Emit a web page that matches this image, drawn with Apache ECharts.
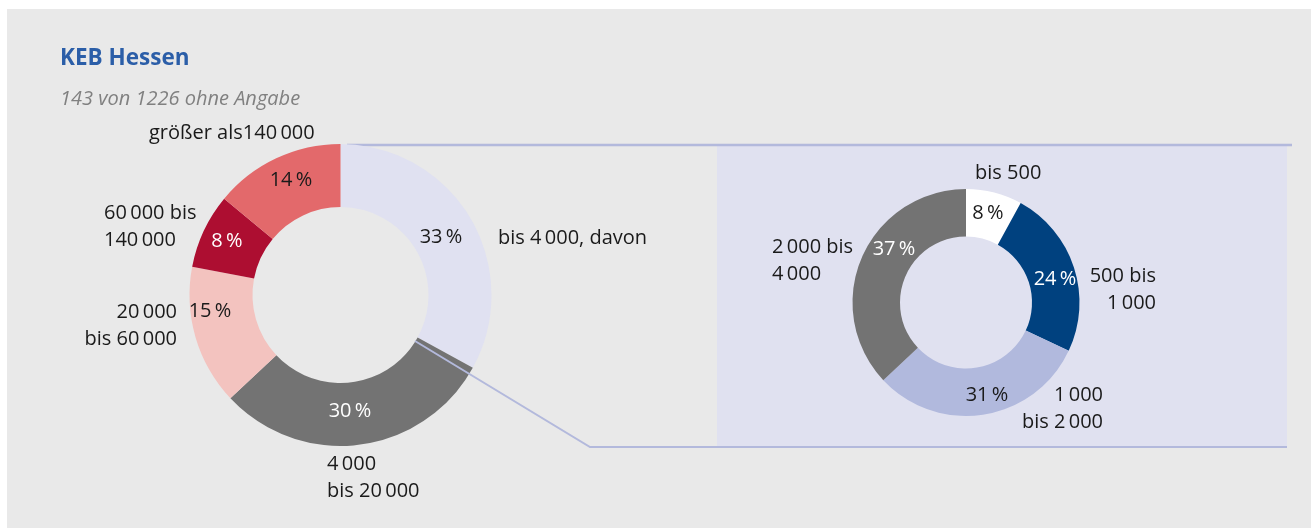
<!DOCTYPE html>
<html>
<head>
<meta charset="utf-8">
<script src="https://cdn.jsdelivr.net/npm/echarts@6/dist/echarts.min.js"></script>
<style>
html,body{margin:0;padding:0;background:#ffffff;}
#chart{width:1311px;height:528px;}
</style>
</head>
<body>
<div id="chart"></div>
<script>
// ---- data ----
const titleText = 'KEB Hessen';
const subtitleText = '143 von 1226 ohne Angabe';
const leftCategories = ['bis 4\u2009000, davon', '4\u2009000\nbis 20\u2009000', '20\u2009000\nbis 60\u2009000', '60\u2009000 bis\n140\u2009000', 'größer als140\u2009000'];
const leftValues = [33, 30, 15, 8, 14];
const rightCategories = ['bis 500', '500 bis\n1\u2009000', '1\u2009000\nbis 2\u2009000', '2\u2009000 bis\n4\u2009000'];
const rightValues = [8, 24, 31, 37];

// ---- styling / layout ----
const FONT = 'Open Sans';
const leftColors = ['#e0e1f1', '#737373', '#f3c3bf', '#ad0e31', '#e3696b'];
const leftPctColors = ['#1a1a1a', '#ffffff', '#1a1a1a', '#ffffff', '#1a1a1a'];
const rightColors = ['#ffffff', '#00417f', '#b1b9dd', '#737373'];
const rightPctColors = ['#1a1a1a', '#ffffff', '#1a1a1a', '#ffffff'];

const leftPctPos = [[441, 237], [350, 411], [210, 311], [227, 241], [291, 180]];
const leftCatPos = [[498, 238, 'left'], [327, 478, 'left'], [177, 326, 'right'], [104, 227, 'left'], [149, 133, 'left']];
const rightPctPos = [[988, 213], [1055, 279], [987, 395], [894, 249]];
const rightCatPos = [[975, 173, 'left'], [1156, 290, 'right'], [1103, 409, 'right'], [772, 261, 'left']];

const leftCenter = [340.5, 295], leftRadius = [88, 151];
const rightCenter = [966, 302.5], rightRadius = [66, 113.5];

function pctSeries(values, colors, txtColors, center, radius, pos) {
  return {
    type: 'pie', center: center, radius: radius, startAngle: 90, clockwise: true,
    avoidLabelOverlap: false, silent: true, z: 2,
    emphasis: { disabled: true, scale: false },
    data: values.map((v, i) => ({
      value: v,
      itemStyle: { color: colors[i] },
      label: { color: txtColors[i] }
    })),
    label: {
      show: true, position: 'inside',
      formatter: p => p.value + '\u2009%',
      fontFamily: FONT, fontSize: 20, lineHeight: 27
    },
    labelLine: { show: false },
    labelLayout: p => ({ x: pos[p.dataIndex][0], y: pos[p.dataIndex][1], align: 'center', verticalAlign: 'middle' })
  };
}
function catSeries(values, cats, center, radius, pos) {
  return {
    type: 'pie', center: center, radius: radius, startAngle: 90, clockwise: true,
    avoidLabelOverlap: false, silent: true, z: 1,
    emphasis: { disabled: true, scale: false },
    itemStyle: { color: 'rgba(0,0,0,0)' },
    data: values.map((v, i) => ({ value: v, name: cats[i] })),
    label: {
      show: true, position: 'inside',
      formatter: p => p.name,
      color: '#1a1a1a', fontFamily: FONT, fontSize: 20, lineHeight: 27
    },
    labelLine: { show: false },
    labelLayout: p => ({ x: pos[p.dataIndex][0], y: pos[p.dataIndex][1], align: pos[p.dataIndex][2], verticalAlign: 'middle' })
  };
}

const chart = echarts.init(document.getElementById('chart'), null, { renderer: 'canvas' });
chart.setOption({
  animation: false,
  backgroundColor: '#ffffff',
  title: {
    text: titleText, subtext: subtitleText,
    left: 60, top: 47, itemGap: 19, padding: 0,
    textStyle: { fontFamily: FONT, fontSize: 22.5, fontWeight: 'bold', color: '#2b5ea8' },
    subtextStyle: { fontFamily: FONT, fontSize: 20, fontStyle: 'italic', color: '#808080' }
  },
  graphic: [
    { type: 'rect', z: -10, shape: { x: 7, y: 9, width: 1304, height: 519 }, style: { fill: '#e9e9e9' }, silent: true },
    { type: 'rect', z: -5, shape: { x: 717, y: 145, width: 570, height: 302 }, style: { fill: '#e0e1f0' }, silent: true },
    { type: 'line', z: -4, shape: { x1: 347, y1: 145, x2: 1292, y2: 145 }, style: { stroke: '#b3b9dc', lineWidth: 2.5 }, silent: true },
    { type: 'polyline', z: 10, shape: { points: [[415, 341], [590, 447], [1287, 447]] }, style: { stroke: '#b3b9dc', lineWidth: 2, fill: null }, silent: true }
  ],
  series: [
    pctSeries(leftValues, leftColors, leftPctColors, leftCenter, leftRadius, leftPctPos),
    catSeries(leftValues, leftCategories, leftCenter, leftRadius, leftCatPos),
    pctSeries(rightValues, rightColors, rightPctColors, rightCenter, rightRadius, rightPctPos),
    catSeries(rightValues, rightCategories, rightCenter, rightRadius, rightCatPos)
  ]
});
</script>
</body>
</html>
